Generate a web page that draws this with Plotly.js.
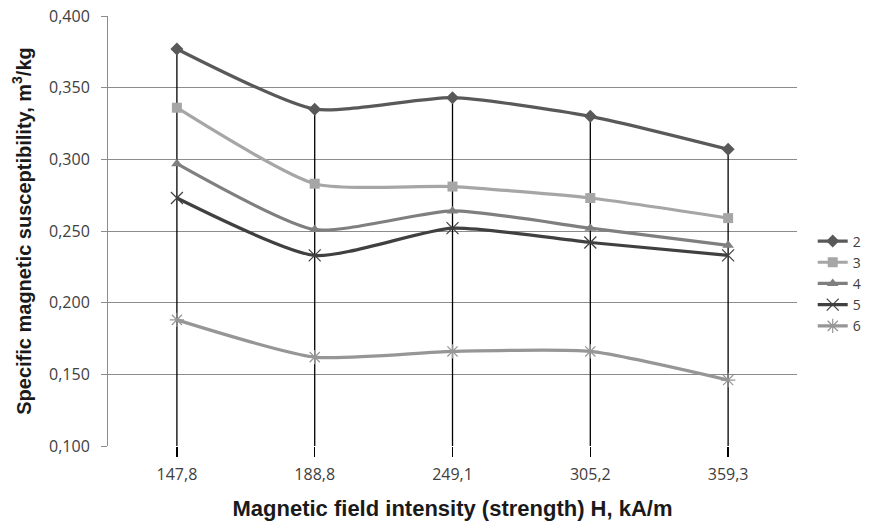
<!DOCTYPE html>
<html>
<head>
<meta charset="utf-8">
<script src="https://cdn.plot.ly/plotly-3.0.1.min.js"></script>
<style>html,body{margin:0;padding:0;background:#fff;}#chart{width:874px;height:528px;}</style>
</head>
<body>
<div id="chart"></div>
<script>
var categories = ["147,8", "188,8", "249,1", "305,2", "359,3"];
var seriesNames = ["2", "3", "4", "5", "6"];
var s2 = [0.377, 0.335, 0.343, 0.330, 0.307];
var s3 = [0.336, 0.283, 0.281, 0.273, 0.259];
var s4 = [0.297, 0.251, 0.264, 0.252, 0.240];
var s5 = [0.273, 0.233, 0.252, 0.242, 0.233];
var s6 = [0.188, 0.162, 0.166, 0.166, 0.146];
var yTickVals = [0.100, 0.150, 0.200, 0.250, 0.300, 0.350, 0.400];

var allSeries = [s2, s3, s4, s5, s6];
var styles = [
  {color: "#595959", symbol: "diamond", size: 10, lw: 0},
  {color: "#a6a6a6", symbol: "square", size: 10, lw: 0},
  {color: "#7f7f7f", symbol: "triangle-up", size: 10, lw: 0},
  {color: "#404040", symbol: "x-thin-open", size: 12, lw: 1.2},
  {color: "#969696", symbol: "asterisk-open", size: 12, lw: 1.2}
];

// drop lines from highest value at each category down to axis minimum
var dropX = [], dropY = [];
categories.forEach(function (c, i) {
  var mx = Math.max.apply(null, allSeries.map(function (s) { return s[i]; }));
  dropX.push(c, c, null);
  dropY.push(yTickVals[0], mx, null);
});

var traces = [{
  x: dropX, y: dropY, mode: "lines", type: "scatter",
  line: {color: "#000000", width: 1.3}, showlegend: false, hoverinfo: "skip"
}];

allSeries.forEach(function (s, k) {
  var st = styles[k];
  traces.push({
    x: categories, y: s, name: seriesNames[k], type: "scatter", mode: "lines+markers",
    line: {color: st.color, width: 3.2, shape: "spline", smoothing: 0.6},
    marker: {symbol: st.symbol, size: st.size, color: st.color,
             line: {color: st.color, width: st.lw}}
  });
});

var layout = {
  width: 874, height: 528,
  margin: {l: 108, r: 0, t: 16, b: 82},
  paper_bgcolor: "#ffffff", plot_bgcolor: "#ffffff",
  separators: ", ",
  font: {family: "Open Sans, Liberation Sans, sans-serif", size: 16, color: "#404040"},
  showlegend: true,
  legend: {x: 0.920, xanchor: "left", y: 0.378, yanchor: "middle",
           font: {size: 14, color: "#404040"}, tracegroupgap: 0, borderwidth: 0,
           bgcolor: "rgba(255,255,255,0)"},
  xaxis: {
    type: "category", range: [-0.5, 4.5], automargin: false, domain: [0, 0.8995],
    showgrid: false, zeroline: false, showline: false,
    ticks: "outside", ticklen: 10, tickcolor: "#000000", tickwidth: 1.3,
    ticklabelstandoff: 4,
    tickfont: {size: 16, color: "#404040"},
    title: {text: "<b>Magnetic field intensity (strength) H, kA/m</b>",
            font: {family: "Liberation Sans, Arial, sans-serif", size: 22, color: "#1a1a1a"}, standoff: 16}
  },
  yaxis: {
    range: [0.1, 0.4], tickvals: yTickVals, tickformat: ".3f", automargin: false,
    showgrid: true, gridcolor: "#8c8c8c", gridwidth: 1,
    zeroline: false, showline: true, linecolor: "#8c8c8c", linewidth: 1,
    ticks: "outside", ticklen: 6, tickcolor: "#8c8c8c",
    ticklabelstandoff: 8,
    tickfont: {size: 16, color: "#404040"},
    title: {text: "<b>Specific magnetic susceptibility, m<sup>3</sup>/kg</b>",
            font: {family: "Liberation Sans, Arial, sans-serif", size: 20, color: "#1a1a1a"}, standoff: 12}
  }
};

Plotly.newPlot("chart", traces, layout, {displayModeBar: false, staticPlot: true});
</script>
</body>
</html>
